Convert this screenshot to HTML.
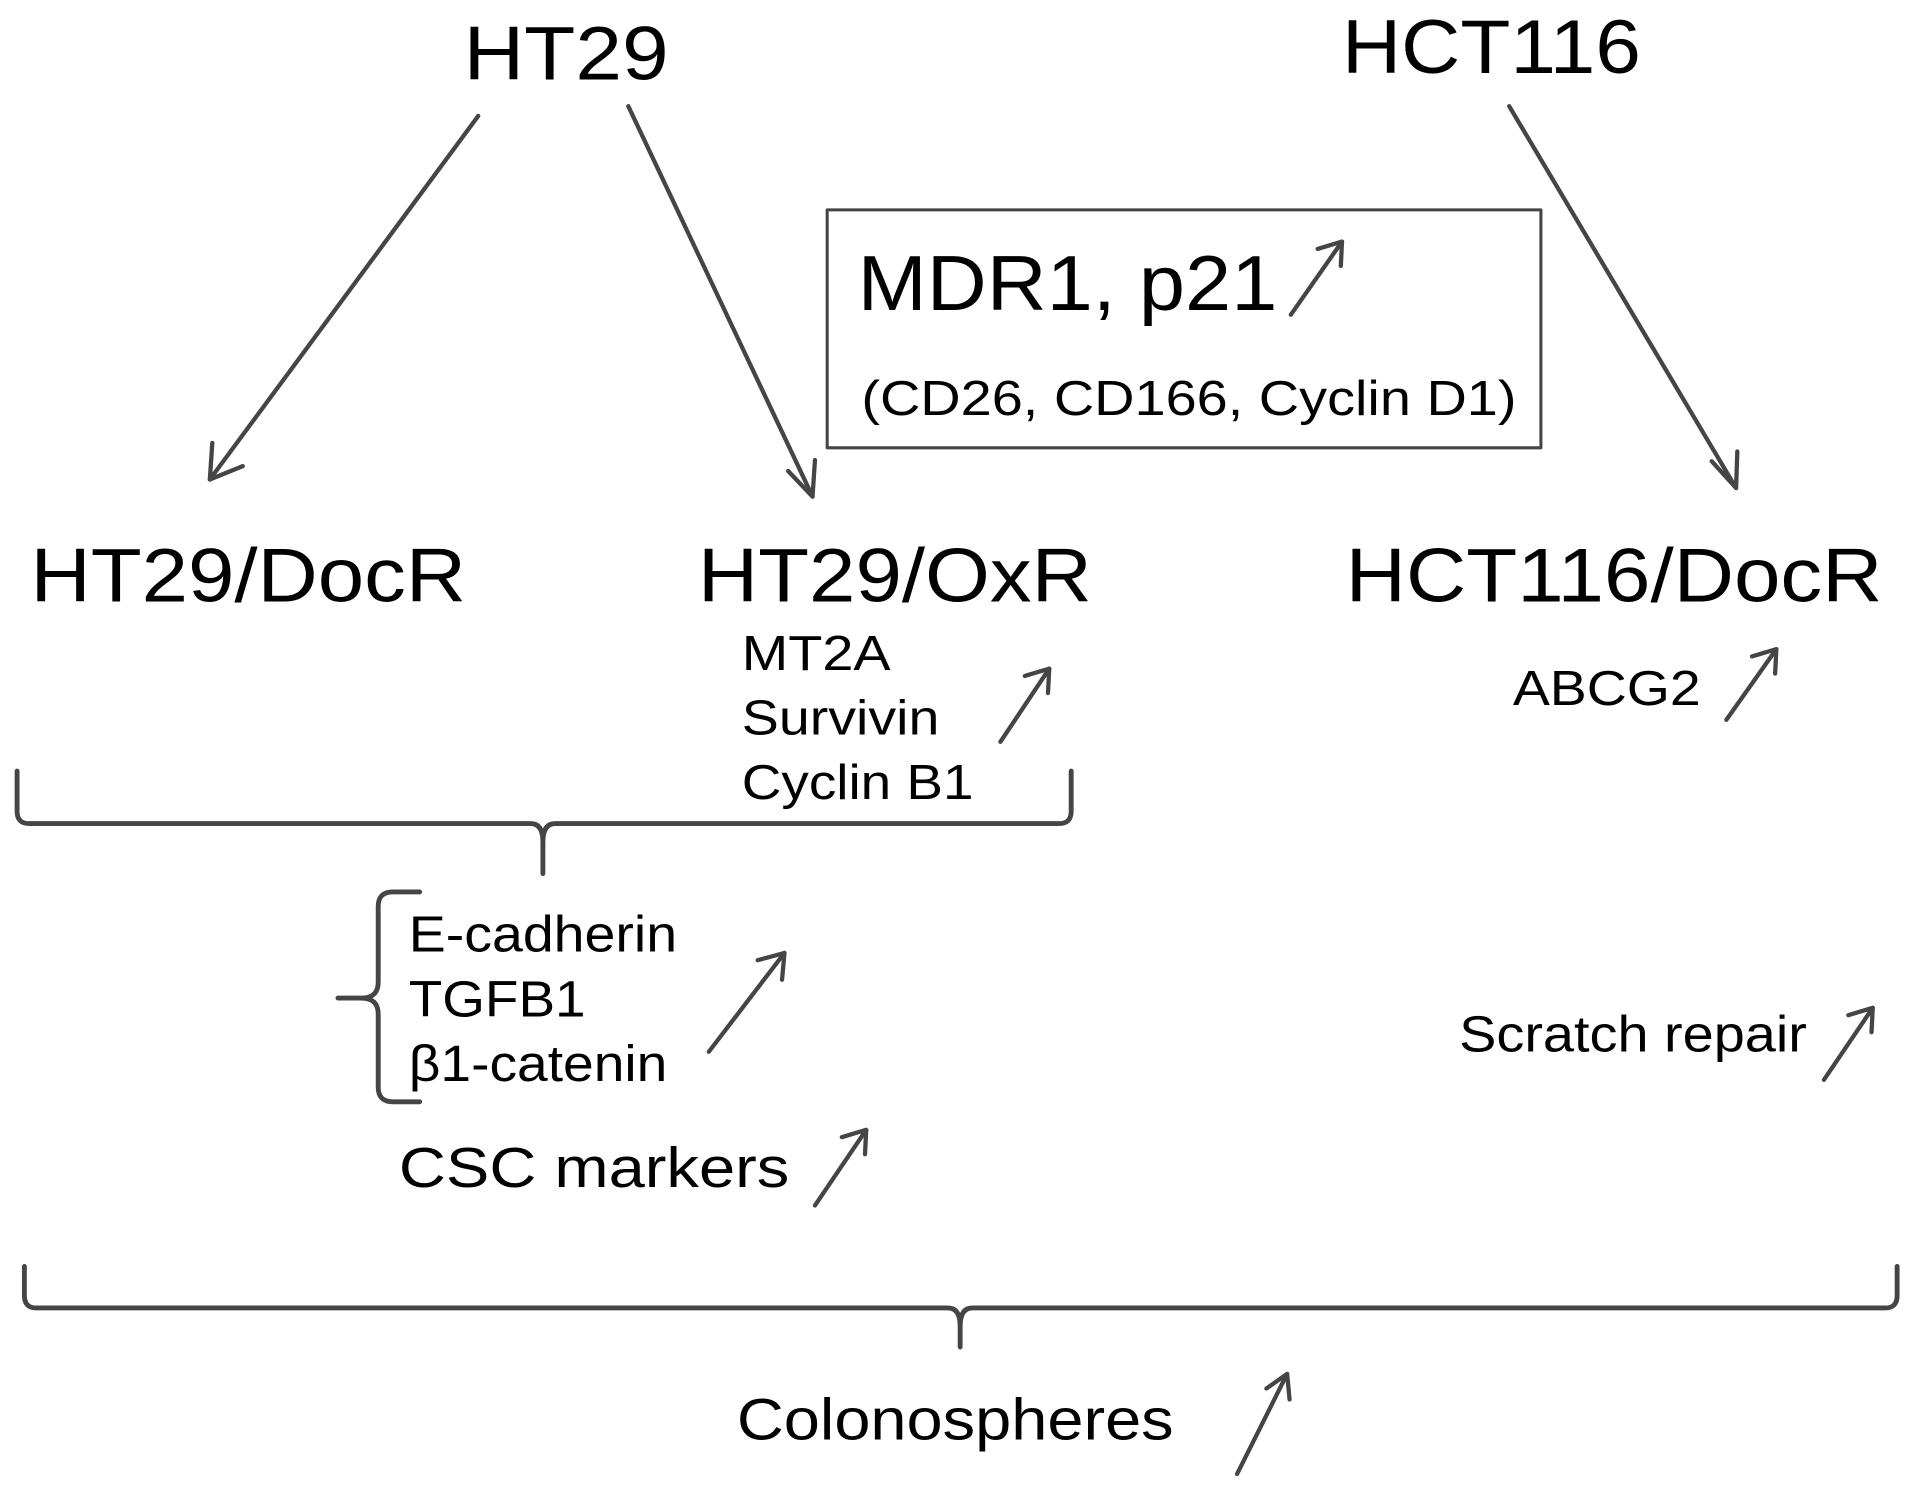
<!DOCTYPE html>
<html><head><meta charset="utf-8"><style>
html,body{margin:0;padding:0;background:#fff;}
svg{display:block}
text{font-family:"Liberation Sans",Arial,sans-serif;fill:#000}
</style></head><body>
<svg width="1913" height="1491" viewBox="0 0 1568 1222" preserveAspectRatio="none" xmlns="http://www.w3.org/2000/svg">
<g stroke="#454545" stroke-width="3.5" fill="none" stroke-linecap="round" stroke-linejoin="round">
<line x1="392" y1="95" x2="172" y2="393"/>
<polyline points="174,363 172,393 199,382"/>
<line x1="515" y1="87" x2="666" y2="407"/>
<polyline points="646,386 666,407 668,377"/>
<line x1="1237" y1="87" x2="1423" y2="400"/>
<polyline points="1403,378 1423,400 1424,370"/>
<rect x="678" y="172" width="585" height="195" stroke-width="2.5"/>
<g>
<line x1="1058" y1="258" x2="1100" y2="198"/><polyline points="1080,204 1100,198 1099,218"/>
<line x1="820" y1="608" x2="860" y2="548"/><polyline points="840,554 860,548 859,568"/>
<line x1="1415" y1="590" x2="1456" y2="532"/><polyline points="1436,538 1456,532 1455,552"/>
<line x1="581" y1="862" x2="643" y2="781"/><polyline points="621,787 643,781 641,803"/>
<line x1="668" y1="988" x2="710" y2="926"/><polyline points="690,932 710,926 709,946"/>
<line x1="1495" y1="885" x2="1535" y2="826"/><polyline points="1515,832 1535,826 1534,846"/>
<line x1="1014" y1="1208" x2="1055" y2="1126"/><polyline points="1038,1138 1055,1126 1057,1147"/>
</g>
<g stroke-width="4">
<path d="M14,632 L14,665 Q14,675 24,675 L435,675 Q445,675 445,690 L445,716 M445,716 L445,690 Q445,675 455,675 L868,675 Q878,675 878,665 L878,632"/>
<path d="M20,1038 L20,1062 Q20,1072 30,1072 L777,1072 Q787,1072 787,1087 L787,1104 M787,1087 Q787,1072 797,1072 L1545,1072 Q1555,1072 1555,1062 L1555,1038"/>
<path d="M344,731 L322,731 Q310,731 310,743 L310,805 Q310,818 296,818 L277,818 M296,818 Q310,818 310,831 L310,891 Q310,903 322,903 L344,903"/>
</g>
</g>
<text x="380" y="65" font-size="62" textLength="168" lengthAdjust="spacingAndGlyphs">HT29</text>
<text x="1100" y="60" font-size="62" textLength="245" lengthAdjust="spacingAndGlyphs">HCT116</text>
<text x="25" y="493" font-size="62" textLength="357" lengthAdjust="spacingAndGlyphs">HT29/DocR</text>
<text x="572" y="493" font-size="62" textLength="323" lengthAdjust="spacingAndGlyphs">HT29/OxR</text>
<text x="1103" y="493" font-size="62" textLength="440" lengthAdjust="spacingAndGlyphs">HCT116/DocR</text>
<text x="703" y="254" font-size="64" textLength="344" lengthAdjust="spacingAndGlyphs">MDR1, p21</text>
<text x="706" y="340" font-size="40" textLength="537" lengthAdjust="spacingAndGlyphs">(CD26, CD166, Cyclin D1)</text>
<text x="608" y="549" font-size="40" textLength="122" lengthAdjust="spacingAndGlyphs">MT2A</text>
<text x="608" y="602" font-size="40" textLength="162" lengthAdjust="spacingAndGlyphs">Survivin</text>
<text x="608" y="655" font-size="40" textLength="190" lengthAdjust="spacingAndGlyphs">Cyclin B1</text>
<text x="1240" y="578" font-size="40" textLength="154" lengthAdjust="spacingAndGlyphs">ABCG2</text>
<text x="335" y="780" font-size="42" textLength="220" lengthAdjust="spacingAndGlyphs">E-cadherin</text>
<text x="335" y="833" font-size="42" textLength="145" lengthAdjust="spacingAndGlyphs">TGFB1</text>
<text x="335" y="886" font-size="42" textLength="212" lengthAdjust="spacingAndGlyphs">β1-catenin</text>
<text x="327" y="973" font-size="46" textLength="320" lengthAdjust="spacingAndGlyphs">CSC markers</text>
<text x="1196" y="862" font-size="42" textLength="285" lengthAdjust="spacingAndGlyphs">Scratch repair</text>
<text x="604" y="1180" font-size="48" textLength="358" lengthAdjust="spacingAndGlyphs">Colonospheres</text>
</svg>
</body></html>
